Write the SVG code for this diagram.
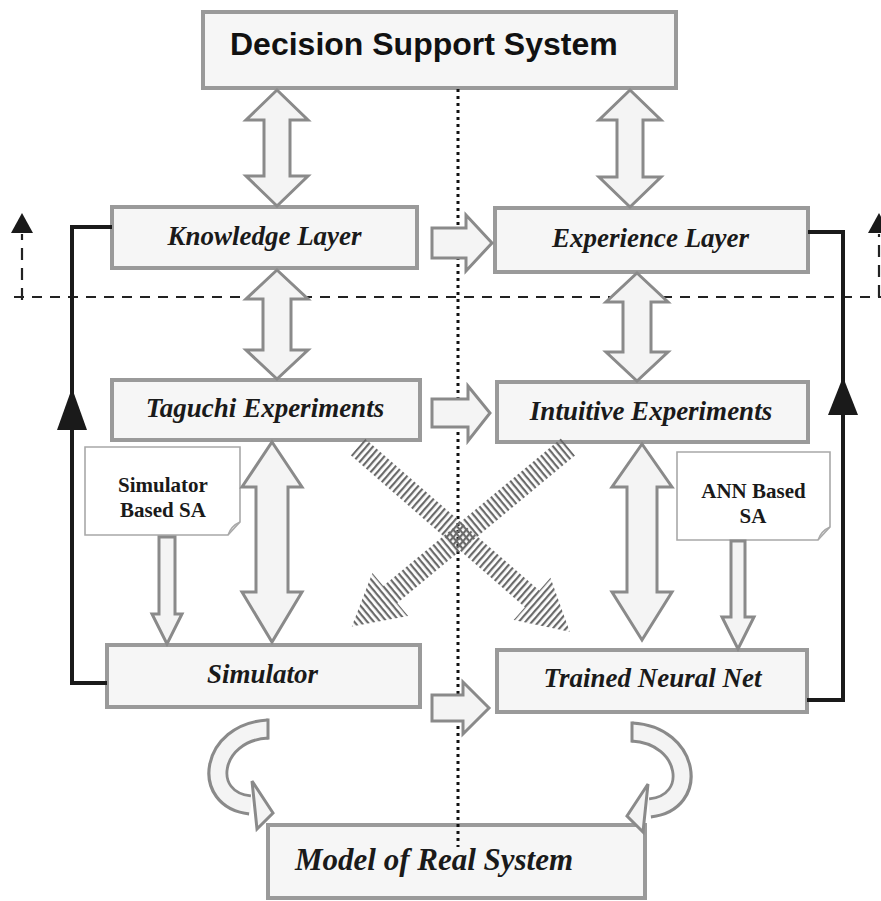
<svg xmlns="http://www.w3.org/2000/svg" width="881" height="901" viewBox="0 0 881 901">
<style>
.box{fill:#f6f6f6;stroke:#9a9a9a;stroke-width:4}
.sa{fill:#ffffff;stroke:#a8a8a8;stroke-width:1.6}
.lbl{font-family:"Liberation Serif","Times New Roman",serif;font-weight:bold;font-style:italic;font-size:27px;fill:#1a1a1a;text-anchor:middle}
.sat{font-family:"Liberation Serif","Times New Roman",serif;font-weight:bold;font-size:21px;fill:#1a1a1a;text-anchor:middle}
.blk{fill:#f4f4f4;stroke:#8a8a8a;stroke-width:3;stroke-linejoin:miter}
.loop{fill:none;stroke:#1a1a1a;stroke-width:4}
.dash{fill:none;stroke:#222;stroke-width:2.2;stroke-dasharray:10 8}
.head{fill:#1a1a1a}
</style>
<defs>
<pattern id="hatch" width="5" height="10" patternUnits="userSpaceOnUse">
<rect x="0" y="0" width="2.2" height="10" fill="#6a6a6a"/>
</pattern>
<polygon id="harrow" points="0,-11 231,-11 231,-28 281,0 231,28 231,11 0,11"/>
<g id="curve">
<path d="M268 729 C210 732 200 800 250 805" fill="none" stroke="#8a8a8a" stroke-width="21"/>
<polygon points="252,781 273,813 257,829" fill="#f4f4f4" stroke="#8a8a8a" stroke-width="3"/>
<path d="M268 729 C210 732 200 800 251 805" fill="none" stroke="#f4f4f4" stroke-width="15"/>
<line x1="268" y1="718.5" x2="268" y2="739.5" stroke="#8a8a8a" stroke-width="3"/>
</g>
</defs>

<g id="dss"><rect class="box" x="203" y="12" width="473" height="76"/>
<text x="230" y="55" font-family="Liberation Sans,Arial,sans-serif" font-weight="bold" font-size="32" fill="#111">Decision Support System</text></g>
<g id="knowledge"><rect class="box" x="112" y="207" width="305" height="61"/><text class="lbl" x="264.5" y="245">Knowledge Layer</text></g>
<g id="experience"><rect class="box" x="495" y="208" width="313" height="64"/><text class="lbl" x="650.5" y="247">Experience Layer</text></g>
<g id="taguchi"><rect class="box" x="112" y="380" width="308" height="60"/><text class="lbl" x="265" y="417">Taguchi Experiments</text></g>
<g id="intuitive"><rect class="box" x="497" y="382" width="311" height="60"/><text class="lbl" x="651" y="420">Intuitive Experiments</text></g>
<g id="simulator"><rect class="box" x="107" y="645" width="313" height="62"/><text class="lbl" x="262.5" y="683">Simulator</text></g>
<g id="trained"><rect class="box" x="497" y="650" width="310" height="62"/><text class="lbl" x="652.5" y="687">Trained Neural Net</text></g>
<g id="model"><rect class="box" x="268" y="825" width="377" height="73"/><text class="lbl" x="295" y="870" style="text-anchor:start;font-size:31px">Model of Real System</text></g>
<g id="simsa"><path class="sa" d="M85 447 H240 V522 L228 535 H85 Z"/><path d="M228 535 Q231 526 240 522" fill="none" stroke="#a8a8a8" stroke-width="1.4"/>
<text class="sat" x="163" y="492">Simulator</text><text class="sat" x="163" y="517">Based SA</text></g>
<g id="annsa"><path class="sa" d="M677 452 H830 V527 L818 540 H677 Z"/><path d="M818 540 Q821 531 830 527" fill="none" stroke="#a8a8a8" stroke-width="1.4"/>
<text class="sat" x="753.5" y="498">ANN Based</text><text class="sat" x="753" y="523">SA</text></g>

<g id="connectors">
<line x1="458" y1="89" x2="458" y2="847" stroke="#111" stroke-width="3" stroke-dasharray="3 4"/>
<line class="dash" x1="14" y1="297" x2="881" y2="297"/>
<line class="dash" x1="22" y1="300" x2="22" y2="234" style="stroke-dasharray:12 8"/>
<polygon class="head" points="22,213 33,233 11,233"/>
<line class="dash" x1="879" y1="297" x2="879" y2="234" style="stroke-dasharray:12 8"/>
<polygon class="head" points="879,213 890,233 868,233"/>
<polyline class="loop" points="107,683 72,683 72,227 112,227"/>
<polygon class="head" points="72,388 87,430 57,430"/>
<polyline class="loop" points="807,700 843,700 843,232 808,232"/>
<polygon class="head" points="843,377 858,415 828,415"/>

<polygon class="blk" points="277,90 308,120 290,120 290,176 308,176 277,206 246,176 264,176 264,120 246,120"/>
<polygon class="blk" points="277,270 308,299 291,299 291,350 308,350 277,379 246,350 263,350 263,299 246,299"/>
<polygon class="blk" points="630,90 661,120 643,120 643,177 661,177 630,207 599,177 617,177 617,120 599,120"/>
<polygon class="blk" points="637,273 668,302 651,302 651,352 668,352 637,381 606,352 623,352 623,302 606,302"/>
<polygon class="blk" points="272,442 302,487 288,487 288,592 302,592 272,642 242,592 256,592 256,487 242,487"/>
<polygon class="blk" points="642,444 672,487 657,487 657,592 672,592 642,640 612,592 627,592 627,487 612,487"/>
<polygon class="blk" points="159,537 175,537 175,614 182,614 167,644 152,614 159,614"/>
<polygon class="blk" points="731,541 745,541 745,617 754,617 738,649 722,617 731,617"/>
<polygon class="blk" points="432,228 466,228 466,215 492,243 466,271 466,258 432,258"/>
<polygon class="blk" points="432,399 468,399 468,386 490,413 468,441 468,427 432,427"/>
<polygon class="blk" points="432,695 463,695 463,682 489,708 463,734 463,721 432,721"/>

<use href="#harrow" transform="translate(358,447) rotate(41.1)" fill="url(#hatch)"/>
<use href="#harrow" transform="translate(568,447) rotate(140.3)" fill="url(#hatch)"/>

<use href="#curve"/>
<use href="#curve" transform="translate(900,3) scale(-1,1)"/>
</g>
</svg>
